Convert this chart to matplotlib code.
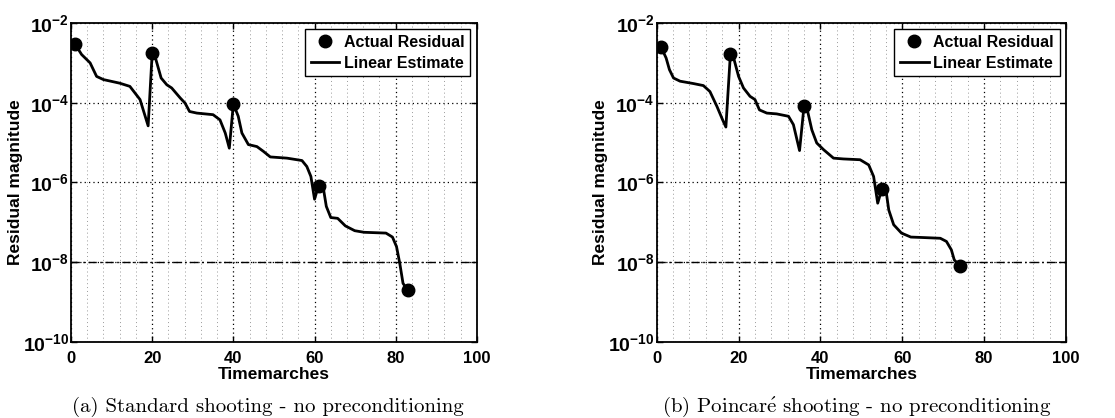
import numpy as np
import matplotlib
matplotlib.use('Agg')
import matplotlib.pyplot as plt
from matplotlib.ticker import FixedLocator, MultipleLocator, NullLocator

plt.rcParams['font.family'] = ['Liberation Sans', 'DejaVu Sans']
plt.rcParams['font.weight'] = 'bold'
plt.rcParams['mathtext.fontset'] = 'custom'
plt.rcParams['mathtext.rm'] = 'Liberation Sans:bold'
plt.rcParams['mathtext.bf'] = 'Liberation Sans:bold'
plt.rcParams['mathtext.default'] = 'bf'

# (a) standard shooting: linear estimate (log10 of residual) and actual residuals
std_x = [1, 2.6, 4.7, 6.3, 8, 12, 14.5, 17, 19, 20, 20.7, 22.2, 23.6, 24.8, 26.9,
         28.1, 29.2, 31, 35, 36.7, 38, 39, 40, 41.2, 42.1, 43.7, 45.8, 47.4, 49.1,
         53.2, 56.9, 58.1, 59.1, 60, 61, 62.1, 62.9, 64, 65.7, 67.6, 69.9, 72.2,
         77.6, 79.2, 80.2, 81, 81.8, 83]
std_log = [-2.53, -2.79, -3.00, -3.34, -3.42, -3.51, -3.59, -3.92, -4.58, -2.75,
           -2.84, -3.38, -3.55, -3.63, -3.88, -4.01, -4.22, -4.26, -4.30, -4.43,
           -4.76, -5.14, -4.03, -4.34, -4.76, -5.05, -5.10, -5.22, -5.36, -5.39,
           -5.45, -5.60, -5.85, -6.42, -6.08, -6.10, -6.60, -6.88, -6.90, -7.09,
           -7.21, -7.25, -7.27, -7.37, -7.61, -8.03, -8.53, -8.71]
std_pts_x = [1, 20, 40, 61, 83]
std_pts_log = [-2.53, -2.75, -4.03, -6.08, -8.71]

# (b) Poincare shooting
poi_x = [1, 2.3, 3.1, 4.1, 5.7, 9, 11.4, 13, 14.7, 16.1, 16.9, 18, 18.7, 20, 21.2,
         22.8, 24, 25.1, 26.9, 29.3, 32.2, 33.4, 34.9, 36, 36.8, 37.9, 39.1, 40.8,
         43.2, 45.6, 49.7, 51.8, 53.0, 54.0, 55, 56, 56.7, 57.9, 59.8, 62.1, 64.7,
         69.3, 70.8, 72, 72.7, 74]
poi_log = [-2.59, -2.88, -3.17, -3.38, -3.46, -3.52, -3.57, -3.72, -4.09, -4.43,
           -4.61, -2.78, -2.84, -3.34, -3.63, -3.84, -3.92, -4.18, -4.26, -4.28,
           -4.34, -4.55, -5.20, -4.08, -4.18, -4.68, -5.01, -5.18, -5.39, -5.41,
           -5.43, -5.56, -5.85, -6.52, -6.17, -6.18, -6.69, -7.06, -7.27, -7.37,
           -7.38, -7.40, -7.48, -7.69, -7.94, -8.09]
poi_pts_x = [1, 18, 36, 55, 74]
poi_pts_log = [-2.59, -2.78, -4.08, -6.17, -8.09]

tolerance = 1e-8
y_ticks = [1e-10, 1e-8, 1e-6, 1e-4, 1e-2]
y_ticklabels = [r'$10^{-10}$', r'$10^{-8}$', r'$10^{-6}$', r'$10^{-4}$', r'$10^{-2}$']

captions = ['(a) Standard shooting - no preconditioning',
            r'(b) Poincar$\mathrm{\acute{e}}$ shooting - no preconditioning']

fig = plt.figure(figsize=(11.15, 4.18), dpi=100)
ax1 = fig.add_axes([0.0637, 0.182, 0.364, 0.763])
ax2 = fig.add_axes([0.589, 0.182, 0.367, 0.763])


def draw_panel(ax, x, logv, px, plogv):
    ax.set_yscale('log')
    ax.plot(px, 10.0 ** np.array(plogv), 'o', color='black', markersize=9,
            label='Actual Residual', zorder=4)
    ax.plot(x, 10.0 ** np.array(logv), '-', color='black', linewidth=2,
            label='Linear Estimate', zorder=3)
    ax.axhline(tolerance, color='black', linestyle=(0, (6, 2.5, 1.2, 2.5)),
               linewidth=1, zorder=2)
    ax.set_xlim(0, 100)
    ax.set_ylim(1e-10, 1e-2)

    ax.xaxis.set_major_locator(MultipleLocator(20))
    ax.xaxis.set_minor_locator(MultipleLocator(4))
    ax.yaxis.set_major_locator(FixedLocator(y_ticks))
    ax.yaxis.set_minor_locator(NullLocator())
    ax.set_yticklabels(y_ticklabels)

    ax.grid(which='major', axis='both', color='black', linestyle=(0, (1, 2.5)),
            linewidth=0.9)
    ax.grid(which='minor', axis='x', color='#999999', linestyle=(0, (1, 3)),
            linewidth=0.7)

    ax.tick_params(which='both', direction='in', top=True, right=True)
    ax.tick_params(which='major', length=4, width=1)
    ax.tick_params(axis='x', labelsize=12, pad=6.5)
    ax.tick_params(axis='y', labelsize=14, pad=1.5)
    ax.tick_params(which='minor', length=0)
    for lbl in ax.get_xticklabels() + ax.get_yticklabels():
        lbl.set_fontweight('bold')
    for s in ax.spines.values():
        s.set_linewidth(1.3)

    ax.set_xlabel('Timemarches', fontsize=12.5, fontweight='bold')
    ax.set_ylabel('Residual magnitude', fontsize=12.5, fontweight='bold')
    ax.xaxis.set_label_coords(0.5, -0.08)
    ax.yaxis.set_label_coords(-0.118, 0.5)

    leg = ax.legend(loc='upper right', fancybox=False, framealpha=1,
                    edgecolor='black', handlelength=1.8, handletextpad=0.3,
                    borderpad=0.35, labelspacing=0.35, borderaxespad=0.4,
                    prop={'weight': 'bold', 'size': 11.5})
    leg.get_frame().set_linewidth(1.0)


draw_panel(ax1, std_x, std_log, std_pts_x, std_pts_log)
draw_panel(ax2, poi_x, poi_log, poi_pts_x, poi_pts_log)

for xc, cap in zip([0.240, 0.768], captions):
    fig.text(xc, 0.026, cap, ha='center', va='center', fontsize=15,
             fontweight='normal', family='cmr10', math_fontfamily='cm')

fig.savefig('out.png', dpi=100)
